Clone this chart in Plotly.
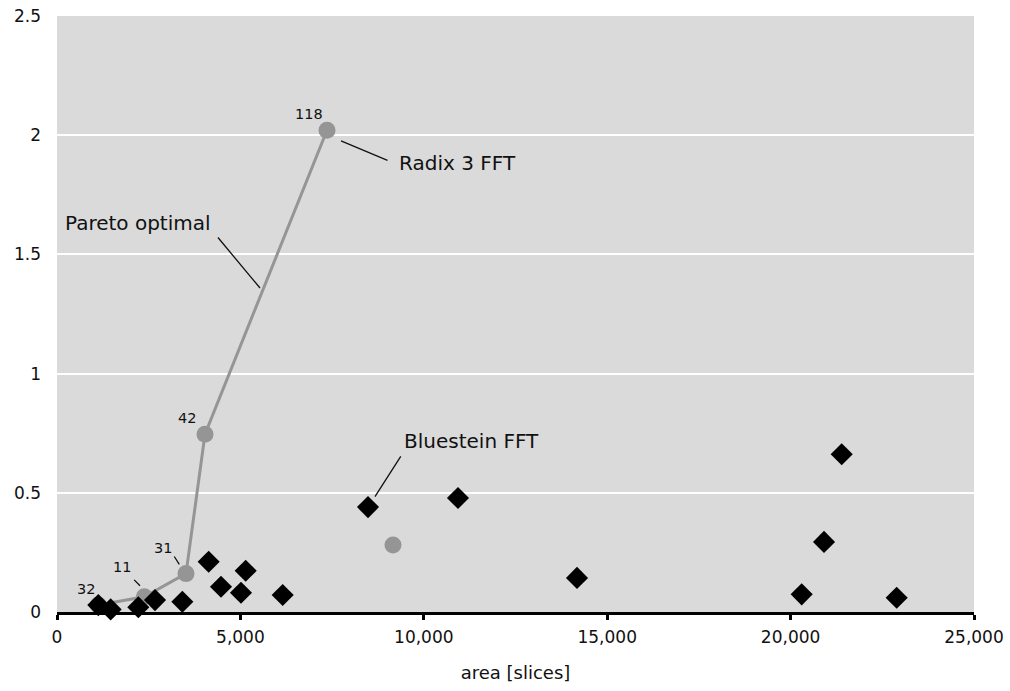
import plotly.graph_objects as go

# Pareto-optimal designs (gray circles joined by a line)
pareto_area = [1126, 2380, 3517, 4035, 7361]
pareto_time = [0.029, 0.064, 0.161, 0.746, 2.021]
pareto_labels = ["32", "11", "31", "42", "118"]

# Other gray (non-pareto) circle
other_area = [9160]
other_time = [0.281]

# Black diamonds
diamond_area = [1126, 1463, 2217, 2672, 3417, 4135, 4471, 5144, 5016, 6153,
                8479, 10932, 14177, 21393, 20911, 20302, 22892]
diamond_time = [0.029, 0.011, 0.020, 0.050, 0.043, 0.211, 0.106, 0.173, 0.081, 0.071,
                0.440, 0.478, 0.143, 0.662, 0.294, 0.074, 0.060]

x_ticks = [0, 5000, 10000, 15000, 20000, 25000]
y_ticks = [0, 0.5, 1, 1.5, 2, 2.5]
y_tick_text = ["0", "0.5", "1", "1.5", "2", "2.5"]

FONT = "DejaVu Sans"
GRAY = "#959595"

fig = go.Figure()
fig.add_trace(go.Scatter(x=pareto_area, y=pareto_time, mode="lines+markers",
                         line=dict(color=GRAY, width=3),
                         marker=dict(color=GRAY, size=17, symbol="circle"),
                         cliponaxis=False, showlegend=False, hoverinfo="skip"))
fig.add_trace(go.Scatter(x=other_area, y=other_time, mode="markers",
                         marker=dict(color=GRAY, size=17, symbol="circle"),
                         cliponaxis=False, showlegend=False))
fig.add_trace(go.Scatter(x=diamond_area, y=diamond_time, mode="markers",
                         marker=dict(color="black", size=17, symbol="diamond"),
                         cliponaxis=False, showlegend=False))

annotations = []
# small point labels
label_shifts = [(-12, 16.5), (-22, 29.7), (-22.7, 25.5), (-18.5, 16.5), (-18, 16.5)]
for xa, ya, lab, (dx, dy) in zip(pareto_area, pareto_time, pareto_labels, label_shifts):
    annotations.append(dict(x=xa, y=ya, text=lab, showarrow=False, xshift=dx, yshift=dy,
                            font=dict(family=FONT, size=14.5, color="#111111")))

# main text labels
main_labels = [("Radix 3 FFT", 10919, 1.883), ("Pareto optimal", 2208, 1.632),
               ("Bluestein FFT", 11287, 0.717)]
for t, xa, ya in main_labels:
    annotations.append(dict(x=xa, y=ya, text=t, showarrow=False,
                            font=dict(family=FONT, size=20, color="#111111")))

# leader lines: (tail x, tail y, head x, head y)
leaders = [(9051, 1.892, 7743, 1.976), (4354, 1.577, 5534, 1.359),
           (9398, 0.659, 8669, 0.484), (3171, 0.239, 3334, 0.200),
           (2064, 0.141, 2263, 0.110)]
for ax_, ay_, x_, y_ in leaders:
    annotations.append(dict(x=x_, y=y_, ax=ax_, ay=ay_, axref="x", ayref="y",
                            text="", showarrow=True, arrowhead=0, arrowwidth=1.3,
                            arrowcolor="#111111", standoff=0, startstandoff=0))

fig.update_layout(
    width=1010, height=691,
    margin=dict(l=57, r=36, t=16, b=79),
    paper_bgcolor="white", plot_bgcolor="#dadada",
    font=dict(family=FONT, size=17, color="#111111"),
    annotations=annotations,
    xaxis=dict(range=[0, 25000], tickvals=x_ticks, tickformat=",d",
               showgrid=False, zeroline=False, automargin=False,
               showline=True, linecolor="black", linewidth=3,
               ticks="outside", ticklen=5, tickwidth=3, tickcolor="black",
               ticklabelstandoff=3,
               tickfont=dict(family=FONT, size=17),
               title=dict(text="area [slices]", font=dict(family=FONT, size=18), standoff=20)),
    yaxis=dict(range=[0, 2.5], tickvals=y_ticks, ticktext=y_tick_text,
               showgrid=True, gridcolor="white", gridwidth=2, automargin=False,
               zeroline=False, showline=False, ticks="",
               ticklabelstandoff=15,
               tickfont=dict(family=FONT, size=17)),
)

fig.write_html("out.html")
